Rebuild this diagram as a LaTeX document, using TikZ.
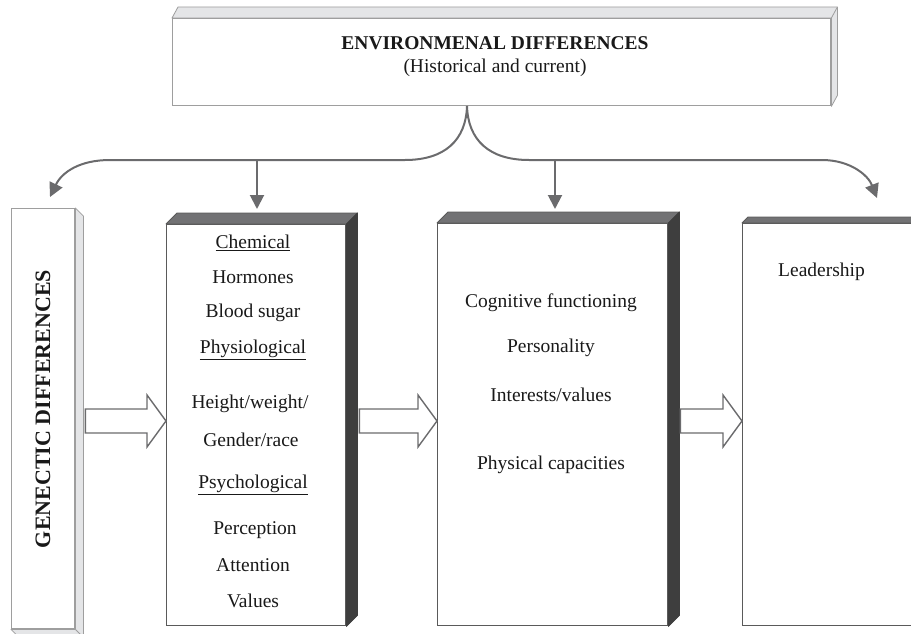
\documentclass[tikz,border=0pt]{standalone}
\usepackage{fontspec}
\setmainfont{Liberation Serif}
\usepackage{xcolor}
\usepackage{tikz}
\usetikzlibrary{arrows.meta, calc}
\definecolor{arrowgray}{HTML}{6B6B6D}
\definecolor{lightedge}{HTML}{9E9E9E}
\definecolor{lightside}{HTML}{E4E5E7}
\definecolor{darkedge}{HTML}{5A5A5A}
\definecolor{darktop}{HTML}{727274}
\definecolor{darkside}{HTML}{3E3E3E}

\tikzset{
  panel/.style={draw=#1, line width=1.4pt, fill=white, inner sep=0pt, anchor=north west},
  face/.style={fill=#1, line width=0.8pt, line join=round},
  flow/.style={draw=arrowgray, line width=2pt, -{Triangle[length=14pt,width=14pt]}},
  fatarrow/.style={draw=arrowgray, line width=1.4pt, fill=white, line join=miter},
  boxtext/.style={font=\fontsize{19.5}{23}\selectfont, inner sep=0pt, text=black!90},
}

\begin{document}
\begin{tikzpicture}[x=1pt, y=-1pt]
\useasboundingbox (0,0) rectangle (911,634);

% Boxes
\node[panel=lightedge, minimum width=658pt, minimum height=87pt] (env) at (172,18) {};
\node[panel=lightedge, minimum width=63pt, minimum height=420pt] (gen) at (11,208) {};
\node[panel=darkedge, minimum width=179pt, minimum height=401pt] (bio) at (166,224) {};
\node[panel=darkedge, minimum width=230pt, minimum height=402pt] (cog) at (437,223) {};
\node[panel=darkedge, minimum width=250pt, minimum height=402pt] (lead) at (742,223) {};

% Depth faces
\draw[face=lightside, draw=lightedge] (env.north west) -- ++(6,-11) -- ($(env.north east)+(6,-11)$)
  -- ($(env.south east)+(6,-11)$) -- (env.south east) -- (env.north east) -- cycle;
\draw[lightedge, line width=0.8pt] (env.north east) -- ++(6,-11);
\draw[face=lightside, draw=lightedge] (gen.north east) -- ++(8,8) -- ($(gen.south east)+(8,8)$)
  -- ($(gen.south west)+(8,8)$) -- (gen.south west) -- (gen.south east) -- cycle;
\draw[lightedge, line width=0.8pt] (gen.south east) -- ++(8,8);
\foreach \b/\d in {bio/11, cog/11} {
  \draw[face=darktop, draw=darkedge] (\b.north west) -- ++(\d,-\d) -- ($(\b.north east)+(\d,-\d)$) -- (\b.north east) -- cycle;
  \draw[face=darkside, draw=darkside] (\b.north east) -- ++(\d,-\d) -- ($(\b.south east)+(\d,-\d)$) -- (\b.south east) -- cycle;
}
\draw[face=darktop, draw=darkedge] (lead.north west) -- ++(6,-6) -- ($(lead.north east)+(6,-6)$) -- (lead.north east) -- cycle;

% Brace and arrows from the top box
\coordinate (brace) at (467,106);
\coordinate (j1) at (257,160);
\coordinate (j2) at (555,160);
\coordinate (gtip) at (50,197);
\coordinate (ltip) at (877,198);
\draw[flow] (brace) .. controls (466,140) and (445,160) .. (405,160) -- (110,160)
  .. controls (80,160) and (62,172) .. (gtip);
\draw[flow] (brace) .. controls (468,140) and (489,160) .. (529,160) -- (822,160)
  .. controls (850,160) and (868,175) .. (ltip);
\draw[flow, shorten >=15pt] (j1) -- (j1 |- bio.north);
\draw[flow, shorten >=14pt] (j2) -- (j2 |- cog.north);

% Block arrows between boxes
\foreach \a/\b/\gap in {gen/bio/10, bio/cog/13, cog/lead/12} {
  \coordinate (s) at ($(\a.east |- 0,421)+(\gap,0)$);
  \coordinate (e) at (\b.west |- s);
  \draw[fatarrow] ($(s)+(0,-12)$) -- ($(e)+(-19,-12)$) -- ($(e)+(-19,-26)$) -- (e)
    -- ($(e)+(-19,26)$) -- ($(e)+(-19,12)$) -- ($(s)+(0,12)$) -- cycle;
}

% Texts
\node[boxtext, align=center] (envtext) at (495,57) {\textbf{ENVIRONMENAL DIFFERENCES}\\(Historical and current)};
\node[boxtext, font=\fontsize{22}{26}\selectfont\bfseries, rotate=90] (gentext) at (43,409) {GENECTIC DIFFERENCES};

\node[boxtext] (chem) at (253,243) {\underline{Chemical}};
\node[boxtext] (horm) at (253,277) {Hormones};
\node[boxtext] (sugar) at (253,313) {Blood sugar};
\node[boxtext] (physio) at (253,350) {\underline{Physiological}};
\node[boxtext] (height) at (250,404) {Height/weight/};
\node[boxtext] (gender) at (251,440) {Gender/race};
\node[boxtext] (psych) at (253,485) {\underline{Psychological}};
\node[boxtext] (percep) at (255,530) {Perception};
\node[boxtext] (atten) at (253,565) {Attention};
\node[boxtext] (values) at (253,601) {Values};

\node[boxtext] (cogn) at (551,303) {Cognitive functioning};
\node[boxtext] (pers) at (551,348) {Personality};
\node[boxtext] (inter) at (551,395) {Interests/values};
\node[boxtext] (phys) at (551,465) {Physical capacities};

\node[boxtext, anchor=west] (leader) at (778,272) {Leadership};

\end{tikzpicture}
\end{document}
